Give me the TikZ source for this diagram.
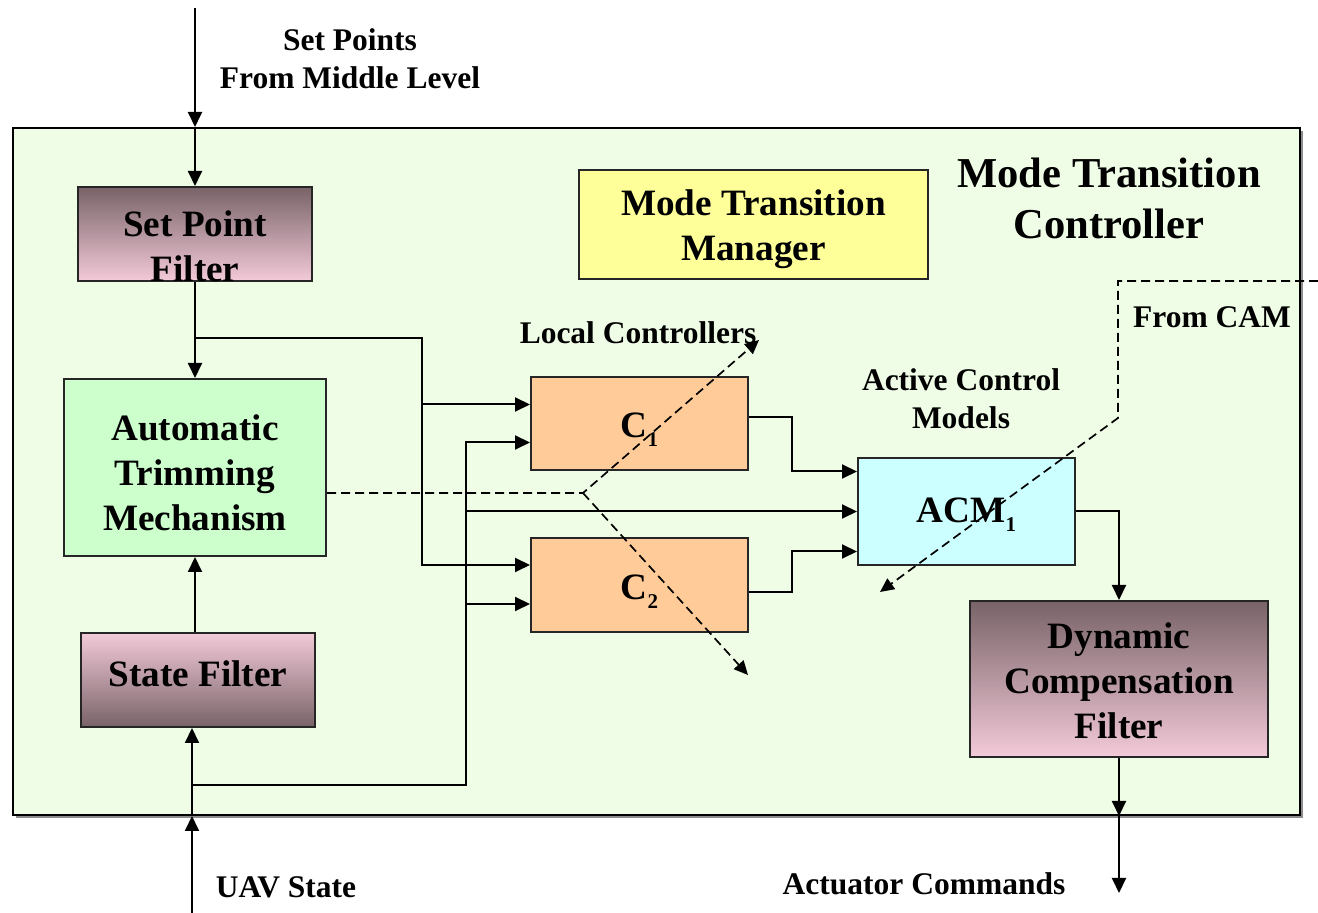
\documentclass[tikz,border=0pt]{standalone}
\usepackage{fontspec}
\setmainfont{Liberation Serif}
\usetikzlibrary{arrows.meta,calc,shadows}

\definecolor{panel}{RGB}{240,253,230}
\definecolor{mauve}{RGB}{120,99,104}
\definecolor{blush}{RGB}{243,202,216}
\definecolor{lemon}{RGB}{255,255,153}
\definecolor{mint}{RGB}{204,255,204}
\definecolor{peach}{RGB}{255,204,153}
\definecolor{aqua}{RGB}{204,255,255}

\newcommand{\subone}{\raisebox{-4.5pt}{\fontsize{10.5}{10.5}\selectfont 1}}
\newcommand{\subtwo}{\raisebox{-4.5pt}{\fontsize{10.5}{10.5}\selectfont 2}}

\begin{document}
\begin{tikzpicture}[x=0.5pt,y=-0.5pt,
  block/.style={draw=black!85, line width=1pt, inner sep=0pt},
  blockcaption/.style={align=center, inner sep=0pt, font=\bfseries\fontsize{18.6}{22.5}\selectfont},
  fadedown/.style={top color=mauve, bottom color=blush},
  fadeup/.style={top color=blush, bottom color=mauve},
  wire/.style={line width=1pt},
  flow/.style={wire, -{Triangle[length=7.5pt,width=7pt]}},
  hint/.style={line width=0.85pt, dash pattern=on 4.5pt off 2.5pt,
    -{Triangle[length=7pt,width=6.5pt]}},
  tag/.style={font=\bfseries\fontsize{15.75}{19}\selectfont, align=center, inner sep=0pt},
  title/.style={font=\bfseries\fontsize{21.3}{25.5}\selectfont, align=center, inner sep=0pt}]

\useasboundingbox (0,0) rectangle (1318,913);

% enclosing controller panel
\node[draw=black, line width=1pt, fill=panel, minimum width=643.5pt, minimum height=343.5pt,
  drop shadow={shadow xshift=1.5pt, shadow yshift=-1.5pt, fill=black!45, opacity=1}]
  (mtc) at (656.5,471.5) {};
\node[title] (mtctitle) at (1109,198) {Mode Transition\\Controller};

% blocks
\node[block, fadedown, minimum width=117pt, minimum height=47pt] (spf) at (195,234) {};
\node[block, fill=lemon, minimum width=174.5pt, minimum height=54.5pt] (mtm) at (753.5,224.5) {};
\node[block, fill=mint, minimum width=131pt, minimum height=88.5pt] (atm) at (195,467.5) {};
\node[block, fadeup, minimum width=117pt, minimum height=47pt] (sf) at (198,680) {};
\node[block, fill=peach, minimum width=108.5pt, minimum height=46.5pt] (c1) at (639.5,423.5) {};
\node[block, fill=peach, minimum width=108.5pt, minimum height=47pt] (c2) at (639.5,585) {};
\node[block, fill=aqua, minimum width=108.5pt, minimum height=53.5pt] (acm) at (966.5,511.5) {};
\node[block, fadedown, minimum width=149pt, minimum height=78pt] (dcf) at (1119,679) {};

% block captions
\node[blockcaption] (spfcap) at ($(spf)+(0,12)$) {Set Point\\Filter};
\node[blockcaption] (mtmcap) at ($(mtm)+(0,5)$) {Mode Transition\\Manager};
\node[blockcaption] (atmcap) at ($(atm)+(0,5)$) {Automatic\\Trimming\\Mechanism};
\node[blockcaption] (sfcap) at ($(sf)+(0,-6)$) {State Filter};
\node[blockcaption] (c1cap) at ($(c1)+(0,6)$) {C\subone};
\node[blockcaption] (c2cap) at ($(c2)+(0,7)$) {C\subtwo};
\node[blockcaption] (acmcap) at ($(acm)+(0,3)$) {ACM\subone};
\node[blockcaption] (dcfcap) at ($(dcf)+(0,2)$) {Dynamic\\Compensation\\Filter};

% labels
\node[tag] (sptag) at (350,59) {Set Points\\From Middle Level};
\node[tag] (uavtag) at (286,887) {UAV State};
\node[tag] (acttag) at (924,884) {Actuator Commands};
\node[tag] (lctag) at (638,333) {Local Controllers};
\node[tag] (acmtag) at (961,399) {Active Control\\Models};
\node[tag] (camtag) at (1212,317) {From CAM};

% free ends and bus points
\coordinate (spin) at (195,8);
\coordinate (uav) at (192,913);
\coordinate (actout) at (1119,893);
\coordinate (busA) at (422,338);
\coordinate (busB) at (466,785);
\coordinate (join) at (792,0);
\coordinate (c1hi) at ($(c1.west)+(0,-19)$);
\coordinate (c1lo) at ($(c1.west)+(0,19)$);
\coordinate (c2hi) at ($(c2.west)+(0,-20)$);
\coordinate (c2lo) at ($(c2.west)+(0,19)$);
\coordinate (c1out) at ($(c1.east)+(0,-6)$);
\coordinate (c2out) at ($(c2.east)+(0,7)$);
\coordinate (acmhi) at ($(acm.west)+(0,-40)$);
\coordinate (acmlo) at ($(acm.west)+(0,40)$);
\coordinate (fork) at (583,493);
\coordinate (ctlup) at (759,340);
\coordinate (ctldn) at (748,675);
\coordinate (camin) at (1318,281);
\coordinate (cambend) at (1118,281);
\coordinate (camdrop) at (1118,418);
\coordinate (camtip) at (880,592);

% set point path
\draw[flow] (spin) -- (spin |- mtc.north);
\draw[flow] (spin |- mtc.north) -- (spf.north);
\draw[flow] (spf.south) -- (atm.north);
\draw[flow] (spf.south |- busA) -- (busA) |- (c2hi);
\draw[flow] (busA |- c1hi) -- (c1hi);

% state path
\draw[flow] (uav) -- (uav |- mtc.south);
\draw[flow] (uav |- mtc.south) -- (uav |- sf.south);
\draw[flow] (atm.south |- sf.north) -- (atm.south);
\draw[flow] (uav |- busB) -- (busB) |- (c1lo);
\draw[flow] (busB |- c2lo) -- (c2lo);
\draw[flow] (busB |- acm.west) -- (acm.west);

% controllers to active model
\draw[flow] (c1out) -- (c1out -| join) |- (acmhi);
\draw[flow] (c2out) -- (c2out -| join) |- (acmlo);
\draw[flow] (acm.east) -| (dcf.north);

% actuator output
\draw[flow] (dcf.south) -- (dcf.south |- mtc.south);
\draw[flow] (dcf.south |- mtc.south) -- (actout);

% selection hints
\draw[hint] (atm.east |- fork) -- (fork) -- (ctlup);
\draw[hint] (fork) -- (ctldn);
\draw[hint] (camin) -- (cambend) -- (camdrop) -- (camtip);

\end{tikzpicture}
\end{document}
